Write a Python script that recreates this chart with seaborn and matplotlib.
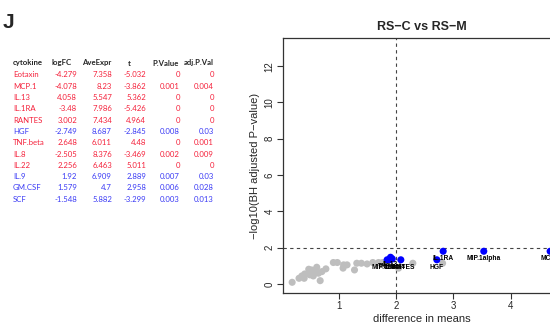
import matplotlib
matplotlib.use("Agg")
import matplotlib.pyplot as plt
import seaborn as sns
import pandas as pd

# ---------------- data ----------------
cytokine = ["Eotaxin", "MCP.1", "IL.13", "IL.1RA", "RANTES", "HGF", "TNF.beta",
            "IL.8", "IL.22", "IL.9", "GM.CSF", "SCF"]
logFC = [-4.279, -4.078, 4.058, -3.48, 3.002, -2.749, 2.648, -2.505, 2.256, 1.92, 1.579, -1.548]
AveExpr = [7.358, 8.23, 5.547, 7.986, 7.434, 8.687, 6.011, 8.376, 6.463, 6.909, 4.7, 5.882]
t_stat = [-5.032, -3.862, 5.362, -5.426, 4.964, -2.845, 4.48, -3.469, 5.011, 2.889, 2.958, -3.299]
p_value = [0, 0.001, 0, 0, 0, 0.008, 0, 0.002, 0, 0.007, 0.006, 0.003]
adj_p = [0, 0.004, 0, 0, 0, 0.03, 0.001, 0.009, 0, 0.03, 0.028, 0.013]
row_group = ["red", "red", "red", "red", "red", "blue", "red", "red", "red", "blue", "blue", "blue"]
headers = ["cytokine", "logFC", "AveExpr", "t", "P.Value", "adj.P.Val"]

gray_x = [0.18, 0.30, 0.35, 0.40, 0.47, 0.52, 0.39, 0.55, 0.61, 0.64, 0.67, 0.70, 0.77,
          0.58, 0.49, 0.90, 0.97, 1.08, 1.07, 1.14, 1.27, 1.31, 1.39, 1.49, 1.59, 1.69,
          1.76, 2.04, 2.29, 2.81]
gray_y = [0.09, 0.31, 0.44, 0.55, 0.81, 0.77, 0.31, 0.44, 0.92, 0.59, 0.18, 0.68, 0.83,
          0.63, 0.50, 1.18, 1.18, 1.05, 0.87, 1.05, 0.77, 1.14, 1.14, 1.10, 1.18, 1.18,
          1.18, 0.87, 1.14, 1.14]

blue_label = ["MIP.1beta", "IL.13", "IL.8", "TNF.beta", "RANTES", "IL.1RA", "HGF",
              "MIP.1alpha", "MCP.1"]
blue_x = [1.84, 1.90, 1.89, 1.93, 2.08, 2.82, 2.71, 3.53, 4.69]
blue_y = [1.33, 1.47, 1.33, 1.38, 1.33, 1.80, 1.33, 1.80, 1.80]

title = "RS\u2212C vs RS\u2212M"
xlabel = "difference in means"
ylabel = "\u2212log10(BH adjusted P\u2212value)"
xticks = [1, 2, 3, 4]
yticks = [0, 2, 4, 6, 8, 10, 12]

# ---------------- figure ----------------
sns.set_theme(style="white")
plt.rcParams["font.family"] = ["Liberation Sans", "DejaVu Sans"]

W, H = 550, 324
fig = plt.figure(figsize=(W / 100, H / 100), dpi=100)

def fx(px):
    return px / W

def fy(py):
    return 1 - py / H

# panel letter
fig.text(fx(3), fy(23), "J", fontsize=15, fontweight="bold", va="center", ha="left",
         family=["Liberation Sans", "DejaVu Sans"])

# table
tfont = ["Lato", "DejaVu Sans"]
col_right = [None, 77, 112, 146, 180, 214]
head_x = [13, 52, 82, 128, 152, 184]
colors = {"red": "#F5203A", "blue": "#3A3AF5"}
fig.text(fx(head_x[0]), fy(63), headers[0], fontsize=5.6, fontweight="bold", va="center",
         ha="left", family=tfont)
for j in range(1, 6):
    fig.text(fx(head_x[j]), fy(63), headers[j], fontsize=5.6, fontweight="bold",
             va="center", ha="left", family=tfont)
cols = [logFC, AveExpr, t_stat, p_value, adj_p]
for i, name in enumerate(cytokine):
    yy = fy(74.7 + i * 11.33)
    c = colors[row_group[i]]
    fig.text(fx(13), yy, name, fontsize=5.6, color=c, va="center", ha="left", family=tfont)
    for j, col in enumerate(cols):
        fig.text(fx(col_right[j + 1]), yy, f"{col[i]:g}", fontsize=5.6, color=c,
                 va="center", ha="right", family=tfont)

# volcano-like plot
ax = fig.add_axes([fx(283), fy(293), (561 - 283) / W, (293 - 38) / H])
gray_df = pd.DataFrame({"x": gray_x, "y": gray_y})
blue_df = pd.DataFrame({"x": blue_x, "y": blue_y, "label": blue_label})
sns.scatterplot(data=gray_df, x="x", y="y", ax=ax, color="#BEBEBE", s=26,
                edgecolor="none", zorder=2)
sns.scatterplot(data=blue_df, x="x", y="y", ax=ax, color="#0000FF", s=26,
                edgecolor="none", zorder=3)
for _, r in blue_df.iterrows():
    ax.annotate(r["label"], (r["x"], r["y"]), xytext=(0, -5.5), textcoords="offset points",
                ha="center", va="center", fontsize=4.8, fontweight="bold", color="black",
                zorder=4, annotation_clip=False)

ax.axhline(2, color="#444444", lw=0.8, ls=(0, (3, 3)), zorder=1)
ax.axvline(2, color="#444444", lw=0.8, ls=(0, (3, 3)), zorder=1)

ax.set_xlim(0.02, 4.88)
ax.set_ylim(-0.5, 13.55)
ax.set_xticks(xticks)
ax.set_yticks(yticks)
ax.set_xticklabels([str(v) for v in xticks], fontsize=7)
ax.set_yticklabels([str(v) for v in yticks], fontsize=7, rotation=90, va="center")
ax.tick_params(axis="both", direction="out", length=4, width=0.8, color="#333333",
               bottom=True, left=True, pad=2)
for s in ax.spines.values():
    s.set_visible(True)
    s.set_color("#333333")
    s.set_linewidth(0.9)
ax.set_xlabel(xlabel, fontsize=8, labelpad=2)
ax.set_ylabel(ylabel, fontsize=8, labelpad=3)
ax.set_title(title, fontsize=9, fontweight="bold", pad=6)
ax.grid(False)

fig.savefig("out.png", dpi=100)
